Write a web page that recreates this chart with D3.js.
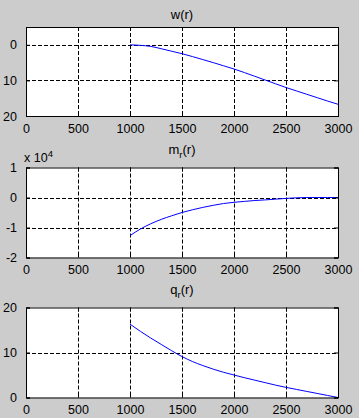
<!DOCTYPE html>
<html><head><meta charset="utf-8">
<script src="https://cdn.jsdelivr.net/npm/d3@7"></script>
<style>
html,body{margin:0;padding:0;background:#cccccc;}
svg{display:block;font-family:"Liberation Sans",Arial,sans-serif;}
</style></head>
<body>
<script>
// ---- data ----
const r = [1000,1100,1200,1300,1400,1500,1600,1700,1800,1900,2000,2100,2200,2300,2400,2500,2600,2700,2800,2900,3000];
const w = [0,0.15,0.45,1.1,1.8,2.5,3.3,4.15,5.0,5.9,6.8,7.8,8.85,9.9,10.95,12.0,12.95,13.9,14.85,15.8,16.7];
const mr = [-12700,-10500,-8750,-7300,-6100,-5000,-4100,-3300,-2600,-2000,-1600,-1300,-1000,-800,-550,-300,-100,0,0,0,0];
const qr = [16.3,14.7,13.2,11.8,10.4,9.1,8.0,7.1,6.3,5.6,5.0,4.4,3.85,3.3,2.75,2.25,1.8,1.35,0.9,0.45,0];
const xTicks = [0,500,1000,1500,2000,2500,3000];
const wTicks = [0,10,20];
const mTicks = [-20000,-10000,0,10000];
const qTicks = [0,10,20];

const W = 359, H = 418;
const svg = d3.select("body").append("svg").attr("width", W).attr("height", H);
svg.append("rect").attr("width", W).attr("height", H).attr("fill", "#cccccc");

const left = 26, right = 338;
const x = d3.scaleLinear().domain([0,3000]).range([left,right]);

const panels = [
  {top:27, bottom:116, domain:[20,-5], ticks:wTicks, values:w, title:"w", sub:null, titleY:19, fmt:d3.format("d")},
  {top:167.5, bottom:257.5, domain:[-20000,10000], ticks:mTicks, values:mr, title:"m", sub:"r", titleY:154, fmt:d=>d/10000, exp:true},
  {top:307.5, bottom:397.5, domain:[0,20], ticks:qTicks, values:qr, title:"q", sub:"r", titleY:294, fmt:d3.format("d")}
];

panels.forEach(p => {
  const y = d3.scaleLinear().domain(p.domain).range([p.bottom, p.top]);
  const g = svg.append("g");
  g.append("rect").attr("x", left).attr("y", p.top).attr("width", right-left).attr("height", p.bottom-p.top)
    .attr("fill", "#ffffff");
  // grid
  g.selectAll(".gx").data(xTicks.filter(t=>t>0 && t<3000)).enter().append("line")
    .attr("x1", d=>Math.round(x(d))+0.5).attr("x2", d=>Math.round(x(d))+0.5)
    .attr("y1", p.top).attr("y2", p.bottom)
    .attr("stroke", "#000").attr("stroke-width", 1).attr("stroke-dasharray", "4,2");
  g.selectAll(".gy").data(p.ticks.filter(t=>y(t)>p.top+1 && y(t)<p.bottom-1)).enter().append("line")
    .attr("y1", d=>Math.round(y(d))+0.5).attr("y2", d=>Math.round(y(d))+0.5)
    .attr("x1", left).attr("x2", right)
    .attr("stroke", "#000").attr("stroke-width", 1).attr("stroke-dasharray", "4,2");
  // data line
  const line = d3.line().x((d,i)=>x(r[i])).y(d=>y(d)).curve(d3.curveMonotoneX);
  g.append("path").datum(p.values).attr("d", line).attr("fill", "none")
    .attr("stroke", "#0000ff").attr("stroke-width", 1);
  // axes with inward ticks
  const axB = d3.axisBottom(x).tickValues(xTicks).tickSize(-4).tickPadding(8).tickFormat(d3.format("d"));
  const axT = d3.axisTop(x).tickValues(xTicks).tickSize(-4).tickFormat("");
  const axL = d3.axisLeft(y).tickValues(p.ticks).tickSize(-4).tickPadding(9).tickFormat(p.fmt);
  const axR = d3.axisRight(y).tickValues(p.ticks).tickSize(-4).tickFormat("");
  [[axB,`translate(0,${p.bottom})`],[axT,`translate(0,${p.top})`],[axL,`translate(${left},0)`],[axR,`translate(${right},0)`]]
    .forEach(([ax,tr]) => {
      const a = g.append("g").attr("transform", tr).call(ax);
      a.select(".domain").attr("stroke", "#000");
      a.selectAll("line").attr("stroke", "#000");
      a.selectAll("text").attr("fill", "#000").attr("font-size", "12.5px")
        .attr("font-family", "Liberation Sans, Arial, sans-serif");
    });
  // title
  const t = svg.append("text").attr("x", (left+right)/2).attr("y", p.titleY)
    .attr("text-anchor", "middle").attr("font-size", "13px").attr("fill", "#000");
  t.append("tspan").text(p.title);
  if (p.sub) {
    t.append("tspan").attr("dy", 4).attr("font-size", "9.5px").text(p.sub);
    t.append("tspan").attr("dy", -4).text("(r)");
  } else {
    t.append("tspan").text("(r)");
  }
  if (p.exp) {
    const e = svg.append("text").attr("x", 24).attr("y", p.top - 6).attr("font-size", "12.5px").attr("fill", "#000");
    e.append("tspan").text("x 10");
    e.append("tspan").attr("dy", -5).attr("font-size", "9.5px").text("4");
  }
});
</script>
</body></html>
